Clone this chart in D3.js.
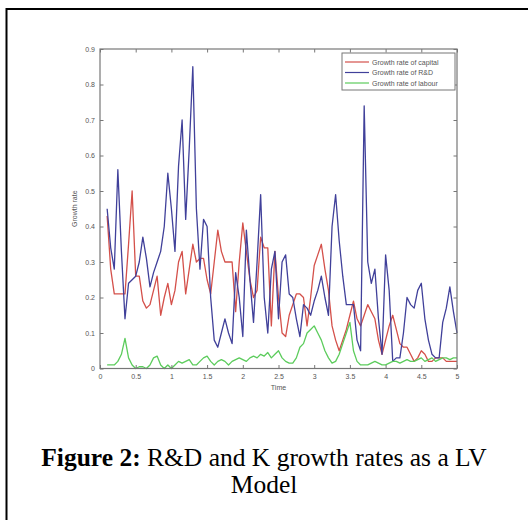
<!DOCTYPE html>
<html>
<head>
    <title>R&amp;D and K growth rates</title>
    <script src="https://d3js.org/d3.v7.min.js"></script>
    <style>
        body { margin: 0; background: #fff; }
        .tick text { font: 7px "Liberation Sans", Arial, sans-serif; fill: #555; }
        .lab { font: 7px "Liberation Sans", Arial, sans-serif; fill: #555; }
        .cap { font: 25.5px "Liberation Serif", "Times New Roman", serif; fill: #000; }
        .series { fill: none; stroke-width: 1.3px; stroke-linejoin: round; }
    </style>
</head>
<body>
    <svg width="528" height="520"></svg>
    <script>
        var time = [0.10, 0.15, 0.20, 0.25, 0.30, 0.35, 0.40, 0.45, 0.50, 0.55,
                    0.60, 0.65, 0.70, 0.75, 0.80, 0.85, 0.90, 0.95, 1.00, 1.05,
                    1.10, 1.15, 1.20, 1.25, 1.30, 1.35, 1.40, 1.45, 1.50, 1.55,
                    1.60, 1.65, 1.70, 1.75, 1.80, 1.85, 1.90, 1.95, 2.00, 2.05,
                    2.10, 2.15, 2.20, 2.25, 2.30, 2.35, 2.40, 2.45, 2.50, 2.55,
                    2.60, 2.65, 2.70, 2.75, 2.80, 2.85, 2.90, 2.95, 3.00, 3.05,
                    3.10, 3.15, 3.20, 3.25, 3.30, 3.35, 3.40, 3.45, 3.50, 3.55,
                    3.60, 3.65, 3.70, 3.75, 3.80, 3.85, 3.90, 3.95, 4.00, 4.05,
                    4.10, 4.15, 4.20, 4.25, 4.30, 4.35, 4.40, 4.45, 4.50, 4.55,
                    4.60, 4.65, 4.70, 4.75, 4.80, 4.85, 4.90, 4.95, 5.00];

        var capital = [0.43, 0.28, 0.21, 0.21, 0.21, 0.21, 0.35, 0.50, 0.26, 0.26,
                       0.19, 0.17, 0.18, 0.22, 0.26, 0.15, 0.20, 0.24, 0.18, 0.22,
                       0.30, 0.33, 0.21, 0.28, 0.35, 0.30, 0.31, 0.31, 0.25, 0.21,
                       0.30, 0.39, 0.33, 0.30, 0.30, 0.30, 0.16, 0.30, 0.41, 0.33,
                       0.25, 0.20, 0.22, 0.37, 0.34, 0.34, 0.12, 0.33, 0.20, 0.10,
                       0.09, 0.15, 0.18, 0.21, 0.21, 0.20, 0.12, 0.20, 0.29, 0.32,
                       0.35, 0.28, 0.22, 0.12, 0.08, 0.05, 0.08, 0.11, 0.15, 0.19,
                       0.14, 0.12, 0.15, 0.18, 0.16, 0.14, 0.08, 0.04, 0.08, 0.12,
                       0.15, 0.11, 0.07, 0.06, 0.06, 0.04, 0.02, 0.03, 0.05, 0.04,
                       0.02, 0.02, 0.03, 0.03, 0.03, 0.02, 0.02, 0.02, 0.02];

        var rnd = [0.45, 0.34, 0.28, 0.56, 0.33, 0.14, 0.24, 0.25, 0.26, 0.30,
                   0.37, 0.31, 0.23, 0.27, 0.30, 0.33, 0.40, 0.55, 0.45, 0.33,
                   0.57, 0.70, 0.42, 0.62, 0.85, 0.45, 0.28, 0.42, 0.40, 0.20,
                   0.08, 0.06, 0.10, 0.14, 0.10, 0.07, 0.27, 0.20, 0.09, 0.39,
                   0.25, 0.13, 0.30, 0.49, 0.20, 0.10, 0.28, 0.33, 0.14, 0.30,
                   0.32, 0.21, 0.20, 0.14, 0.09, 0.18, 0.17, 0.15, 0.19, 0.22,
                   0.26, 0.20, 0.15, 0.40, 0.49, 0.36, 0.26, 0.18, 0.18, 0.18,
                   0.08, 0.05, 0.74, 0.30, 0.24, 0.28, 0.14, 0.04, 0.32, 0.22,
                   0.02, 0.03, 0.03, 0.10, 0.20, 0.18, 0.17, 0.22, 0.24, 0.14,
                   0.08, 0.04, 0.03, 0.03, 0.13, 0.17, 0.23, 0.16, 0.10];

        var labour = [0.010, 0.010, 0.010, 0.020, 0.040, 0.085, 0.030, 0.010, 0.000, 0.005,
                      0.005, 0.000, 0.010, 0.030, 0.035, 0.010, 0.000, 0.010, 0.000, 0.010,
                      0.020, 0.015, 0.020, 0.025, 0.010, 0.010, 0.020, 0.030, 0.035, 0.020,
                      0.010, 0.020, 0.025, 0.020, 0.010, 0.020, 0.025, 0.030, 0.025, 0.020,
                      0.030, 0.035, 0.030, 0.040, 0.035, 0.045, 0.030, 0.040, 0.050, 0.030,
                      0.020, 0.015, 0.015, 0.030, 0.060, 0.070, 0.100, 0.110, 0.120, 0.100,
                      0.080, 0.050, 0.030, 0.015, 0.020, 0.040, 0.070, 0.100, 0.130, 0.050,
                      0.020, 0.010, 0.010, 0.010, 0.015, 0.020, 0.015, 0.010, 0.010, 0.015,
                      0.020, 0.020, 0.015, 0.020, 0.025, 0.020, 0.020, 0.025, 0.030, 0.020,
                      0.025, 0.030, 0.020, 0.025, 0.030, 0.030, 0.025, 0.030, 0.030];

        var xTicks = [0, 0.5, 1, 1.5, 2, 2.5, 3, 3.5, 4, 4.5, 5];
        var yTicks = [0, 0.1, 0.2, 0.3, 0.4, 0.5, 0.6, 0.7, 0.8, 0.9];

        var seriesNames = ["Growth rate of capital", "Growth rate of R&D", "Growth rate of labour"];
        var seriesColors = ["#d4504a", "#40409a", "#5ccc5c"];
        var seriesValues = [capital, rnd, labour];

        var svg = d3.select("svg");

        // page frame (only top and left edges fall inside the picture)
        svg.append("line").attr("x1", 6.5).attr("y1", 9).attr("x2", 528).attr("y2", 9)
            .attr("stroke", "#000").attr("stroke-width", 2);
        svg.append("line").attr("x1", 6.5).attr("y1", 8).attr("x2", 6.5).attr("y2", 520)
            .attr("stroke", "#000").attr("stroke-width", 2);

        var pLeft = 100, pTop = 49, pRight = 457, pBottom = 368.5;
        var x = d3.scaleLinear().domain([0, 5]).range([pLeft, pRight]);
        var y = d3.scaleLinear().domain([0, 0.9]).range([pBottom, pTop]);

        var g = svg.append("g");

        // lines
        var line = d3.line()
            .x(function(d, i) { return x(time[i]); })
            .y(function(d) { return y(d); });

        seriesValues.forEach(function(vals, k) {
            g.append("path")
                .attr("class", "series")
                .attr("stroke", seriesColors[k])
                .attr("d", line(vals));
        });

        // axes, MATLAB style ticks pointing inwards
        var axisColor = "#777";
        g.append("rect")
            .attr("x", pLeft).attr("y", pTop)
            .attr("width", pRight - pLeft).attr("height", pBottom - pTop)
            .attr("fill", "none").attr("stroke", axisColor).attr("stroke-width", 1.2);

        var xb = g.append("g").attr("transform", "translate(0," + pBottom + ")")
            .call(d3.axisBottom(x).tickValues(xTicks).tickSize(-3.5).tickPadding(6)
                .tickFormat(function(d) { return String(d); }));
        var xt = g.append("g").attr("transform", "translate(0," + pTop + ")")
            .call(d3.axisTop(x).tickValues(xTicks).tickSize(-3.5).tickFormat(""));
        var yl = g.append("g").attr("transform", "translate(" + pLeft + ",0)")
            .call(d3.axisLeft(y).tickValues(yTicks).tickSize(-3.5).tickPadding(5)
                .tickFormat(function(d) { return String(+d.toFixed(1)); }));
        var yr = g.append("g").attr("transform", "translate(" + pRight + ",0)")
            .call(d3.axisRight(y).tickValues(yTicks).tickSize(-3.5).tickFormat(""));

        [xb, xt, yl, yr].forEach(function(a) {
            a.select(".domain").remove();
            a.selectAll(".tick line").attr("stroke", axisColor);
        });

        g.append("text").attr("class", "lab")
            .attr("x", (pLeft + pRight) / 2).attr("y", 390)
            .attr("text-anchor", "middle").text("Time");
        g.append("text").attr("class", "lab")
            .attr("transform", "translate(77," + (pTop + pBottom) / 2 + ") rotate(-90)")
            .attr("text-anchor", "middle").text("Growth rate");

        // legend
        var leg = g.append("g");
        leg.append("rect")
            .attr("x", 342).attr("y", 53).attr("width", 113).attr("height", 37)
            .attr("fill", "#fff").attr("stroke", axisColor).attr("stroke-width", 1);
        seriesNames.forEach(function(name, k) {
            var ly = 62 + k * 10.5;
            leg.append("line")
                .attr("x1", 345).attr("x2", 369).attr("y1", ly).attr("y2", ly)
                .attr("stroke", seriesColors[k]).attr("stroke-width", 1.2);
            leg.append("text").attr("class", "lab")
                .attr("x", 372).attr("y", ly + 2.5).text(name);
        });

        // caption
        var cap = svg.append("text").attr("class", "cap").attr("text-anchor", "middle");
        var l1 = cap.append("tspan").attr("x", 264).attr("y", 466);
        l1.append("tspan").attr("font-weight", "bold").text("Figure 2:");
        l1.append("tspan").text(" R&D and K growth rates as a LV");
        cap.append("tspan").attr("x", 264).attr("y", 493).text("Model");
    </script>
</body>
</html>
